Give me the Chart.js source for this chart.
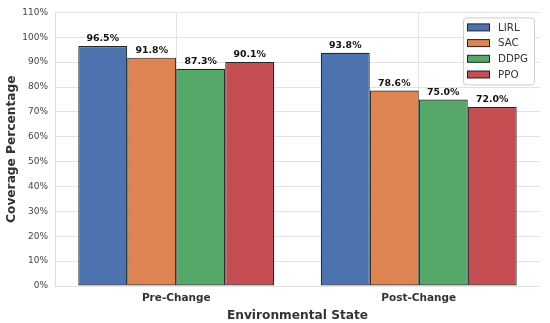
<!DOCTYPE html>
<html>
<head>
<meta charset="utf-8">
<script src="https://cdn.jsdelivr.net/npm/chart.js@4/dist/chart.umd.min.js"></script>
<style>
  html, body { margin: 0; padding: 0; background: #fff; }
  #wrap { width: 550px; height: 323px; }
</style>
</head>
<body>
<div id="wrap"><canvas id="chartCobertura" width="550" height="323"></canvas></div>
<script>
/* dados */
const estados = ["Pre-Change", "Post-Change"];
const metodos = ["LIRL", "SAC", "DDPG", "PPO"];
const lirl = [96.5, 93.8];
const sac = [91.8, 78.6];
const ddpg = [87.3, 75.0];
const ppo = [90.1, 72.0];
const cores = ["#4C72B0", "#DD8452", "#55A868", "#C44E52"];
const yMax = 110;
const yStep = 10;

const FONTE = "'DejaVu Sans', sans-serif";

/* rótulos de valor acima das barras */
const rotulosBarras = {
  id: "rotulosBarras",
  afterDatasetsDraw(chart) {
    const { ctx } = chart;
    ctx.save();
    ctx.font = "bold 9.4px " + FONTE;
    ctx.fillStyle = "#111";
    ctx.textAlign = "center";
    ctx.textBaseline = "bottom";
    chart.data.datasets.forEach((ds, i) => {
      chart.getDatasetMeta(i).data.forEach((bar, j) => {
        ctx.fillText(ds.data[j].toFixed(1) + "%", bar.x, bar.y - 2.5);
      });
    });
    ctx.restore();
  }
};

/* legenda com moldura dentro da área do gráfico */
const legendaQuadro = {
  id: "legendaQuadro",
  afterDraw(chart) {
    const { ctx, chartArea } = chart;
    const w = 71, h = 67;
    const x0 = 463.5;
    const y0 = chartArea.top + 5.5;
    ctx.save();
    ctx.beginPath();
    ctx.roundRect(x0, y0, w, h, 3);
    ctx.fillStyle = "rgba(255,255,255,0.9)";
    ctx.fill();
    ctx.strokeStyle = "#cccccc";
    ctx.lineWidth = 1;
    ctx.stroke();
    ctx.font = "10.3px " + FONTE;
    ctx.textBaseline = "middle";
    chart.data.datasets.forEach((ds, i) => {
      const cy = y0 + 9.5 + i * 15.7;
      ctx.fillStyle = ds.backgroundColor;
      ctx.fillRect(x0 + 4, cy - 3.5, 22, 7);
      ctx.strokeStyle = "#222";
      ctx.strokeRect(x0 + 4, cy - 3.5, 22, 7);
      ctx.fillStyle = "#333";
      ctx.fillText(ds.label, x0 + 34.5, cy + 0.5);
    });
    ctx.restore();
  }
};

const series = [lirl, sac, ddpg, ppo];

new Chart(document.getElementById("chartCobertura"), {
  type: "bar",
  data: {
    labels: estados,
    datasets: metodos.map((m, i) => ({
      label: m,
      data: series[i],
      backgroundColor: cores[i],
      borderColor: "#262626",
      borderWidth: 1.2,
      borderSkipped: false,
      categoryPercentage: 0.808,
      barPercentage: 1.0
    }))
  },
  options: {
    responsive: false,
    animation: false,
    layout: { padding: { top: 6, right: 10, left: 0, bottom: 0 } },
    plugins: {
      legend: { display: false },
      tooltip: { enabled: false }
    },
    scales: {
      x: {
        afterFit: (s) => { s.height = 37; },
        grid: { offset: false, color: "#e3e3e3", drawTicks: false },
        border: { display: false },
        ticks: { color: "#333", padding: 6, font: { family: FONTE, size: 10.5, weight: "bold" } },
        title: {
          display: true,
          text: "Environmental State",
          color: "#333",
          padding: { top: 1, bottom: 0 },
          font: { family: FONTE, size: 12.2, weight: "bold" }
        }
      },
      y: {
        min: 0,
        max: yMax,
        afterFit: (s) => { s.width = 55; },
        grid: { color: "#e3e3e3", drawTicks: false },
        border: { color: "#dddddd" },
        ticks: {
          stepSize: yStep,
          color: "#444",
          padding: 7,
          font: { family: FONTE, size: 9 },
          callback: (v) => v + "%"
        },
        title: {
          display: true,
          text: "Coverage Percentage",
          color: "#333",
          padding: { top: 5, bottom: 0 },
          font: { family: FONTE, size: 12.2, weight: "bold" }
        }
      }
    }
  },
  plugins: [rotulosBarras, legendaQuadro]
});
</script>
</body>
</html>
